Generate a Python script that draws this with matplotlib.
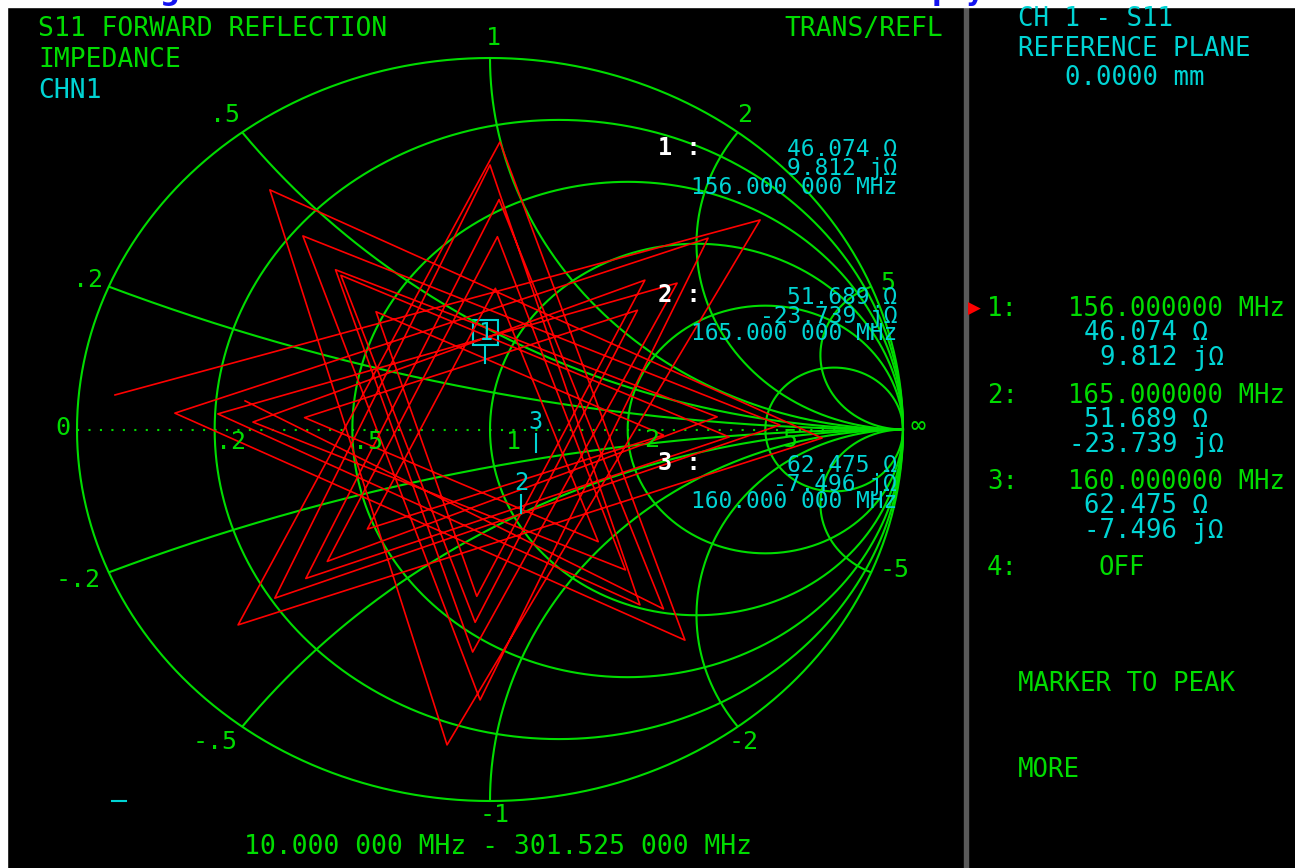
import numpy as np
import matplotlib
matplotlib.use("Agg")
import matplotlib.pyplot as plt
from matplotlib.lines import Line2D
from matplotlib.patches import Rectangle

W, H = 1295, 868
GREEN = "#00dc00"
CYAN = "#00d4d4"
RED = "#ff0000"
MONO = "DejaVu Sans Mono"

# smith chart grid
r_values = [0, 0.2, 0.5, 1, 2, 5]
x_values = [0.2, 0.5, 1, 2, 5]

# red trace, reflection coefficient (re, im)
trace_re = [-0.908, 0.654, -0.104, -0.533, 0.804, -0.610, 0.024, 0.472,
            -0.763, 0.528, -0.024, -0.453, 0.702, -0.521, 0.000, 0.363,
            -0.659, 0.453, -0.042, -0.374, 0.550, -0.394, 0.018, 0.328,
            -0.574, 0.375, -0.032, -0.276, 0.420, -0.297, 0.013, 0.262,
            -0.449, 0.357, -0.036, -0.361, 0.579, -0.446, 0.022, 0.420,
            -0.593]
trace_im = [0.093, 0.564, -0.849, 0.645, -0.023, -0.526, 0.774, -0.567,
            0.044, 0.515, -0.728, 0.521, 0.012, -0.454, 0.712, -0.472,
            0.042, 0.394, -0.599, 0.430, 0.034, -0.355, 0.519, -0.378,
            0.020, 0.402, -0.449, 0.317, -0.015, -0.268, 0.380, -0.302,
            0.032, 0.321, -0.519, 0.415, -0.020, -0.401, 0.619, -0.483,
            0.077]

# markers
marker_ids = ["1", "2", "3"]
marker_re = [-0.012, 0.075, 0.111]
marker_im = [0.179, -0.225, -0.061]
marker_freq = ["156.000 000 MHz", "165.000 000 MHz", "160.000 000 MHz"]
marker_res = ["46.074 Ω", "51.689 Ω", "62.475 Ω"]
marker_react = ["9.812 jΩ", "-23.739 jΩ", "-7.496 jΩ"]
panel_freq = ["156.000000 MHz", "165.000000 MHz", "160.000000 MHz"]

# screen geometry of the chart (pixels)
CX, CY, RX, RY = 490, 429.5, 413, 371.5

fig = plt.figure(figsize=(W / 100, H / 100), dpi=100, facecolor="black")
ax = fig.add_axes([0, 0, 1, 1])
ax.set_facecolor("black")
ax.set_xlim(-CX / RX, (W - CX) / RX)
ax.set_ylim((CY - H) / RY, CY / RY)
ax.set_xticks([])
ax.set_yticks([])
for s in ax.spines.values():
    s.set_visible(False)

grid_kw = dict(color=GREEN, lw=1.5, solid_capstyle="butt")
t = np.linspace(0, 2 * np.pi, 721)
for r in r_values:
    c, rad = r / (1 + r), 1 / (1 + r)
    ax.plot(c + rad * np.cos(t), rad * np.sin(t), **grid_kw)

rr = np.concatenate([[0], np.logspace(-3, 4, 800)])
for x in x_values:
    for sgn in (1, -1):
        z = rr + 1j * sgn * x
        g = (z - 1) / (z + 1)
        ax.plot(g.real, g.imag, **grid_kw)

ax.plot([-1, 1], [0, 0], color=GREEN, lw=1.5, ls=(0, (1, 4.5)))

# trace
ax.plot(trace_re, trace_im, color=RED, lw=1.2)

# markers on the chart
for mid, mr, mi in zip(marker_ids, marker_re, marker_im):
    ax.plot([mr, mr], [mi, mi + 18 / RY], color=CYAN, lw=1.5)
    ax.text(mr, mi + 30 / RY, mid, color=CYAN, fontsize=17, family=MONO,
            ha="center", va="center")
ax.add_patch(Rectangle((marker_re[0] - 12.5 / RX, marker_im[0] + 18 / RY),
                       25 / RX, 25 / RY, fill=False, ec=CYAN, lw=1.5))


def put(x, y, s, color=GREEN, size=19, ha="left", **kw):
    fig.text(x / W, 1 - y / H, s, color=color, fontsize=size, family=MONO,
             ha=ha, va="center", **kw)


put(38, 29, "S11 FORWARD REFLECTION")
put(38, 60, "IMPEDANCE")
put(38, 91, "CHN1", CYAN)
put(943, 29, "TRANS/REFL", ha="right")

# grid labels
put(493, 38, "1", size=18, ha="center")
put(225, 115, ".5", size=18, ha="center")
put(745, 115, "2", size=18, ha="center")
put(88, 280, ".2", size=18, ha="center")
put(888, 283, "5", size=18, ha="center")
put(63, 428, "0", size=18, ha="center")
put(231, 442, ".2", size=18, ha="center")
put(368, 442, ".5", size=18, ha="center")
put(513, 442, "1", size=18, ha="center")
put(652, 440, "2", size=18, ha="center")
put(790, 440, "5", size=18, ha="center")
put(918, 426, "∞", size=18, ha="center")
put(78, 580, "-.2", size=18, ha="center")
put(215, 742, "-.5", size=18, ha="center")
put(495, 815, "-1", size=18, ha="center")
put(744, 742, "-2", size=18, ha="center")
put(895, 570, "-5", size=18, ha="center")

put(498, 847, "10.000 000 MHz - 301.525 000 MHz", ha="center")

# marker readouts on chart
for k, yy in enumerate([150, 297, 465]):
    put(658, yy - 2, marker_ids[k] + " :", "white", size=17, weight="bold")
    put(897, yy, marker_res[k], CYAN, size=16.5, ha="right")
    put(897, yy + 19, marker_react[k], CYAN, size=16.5, ha="right")
    put(897, yy + 37, marker_freq[k], CYAN, size=16.5, ha="right")

# right panel
put(1018, 19, "CH 1 - S11", CYAN, size=18.5)
put(1018, 49, "REFERENCE PLANE", CYAN, size=18.5)
put(1065, 78, "0.0000 mm", CYAN, size=18.5)
for k, yy in enumerate([309, 396, 482]):
    put(987, yy, marker_ids[k] + ":", size=18.5)
    put(1285, yy, panel_freq[k], size=18.5, ha="right")
    put(1208, yy + 24, marker_res[k], CYAN, size=18.5, ha="right")
    put(1224, yy + 49, marker_react[k], CYAN, size=18.5, ha="right")
put(987, 568, "4:", size=18.5)
put(1098, 568, "OFF", size=18.5)
put(1018, 684, "MARKER TO PEAK", size=18.5)
put(1018, 770, "MORE", size=18.5)
fig.text(968 / W, 1 - 309 / H, "▶", color=RED, fontsize=12, ha="left", va="center")

# frame pieces of the screenshot
fig.add_artist(Rectangle((964 / W, 0), 4 / W, 1, color="#5a5a5a", transform=fig.transFigure))
fig.add_artist(Rectangle((0, 0), 7 / W, 1, color="white", transform=fig.transFigure))
fig.add_artist(Rectangle((0, 1 - 7 / H), 1, 7 / H, color="white", transform=fig.transFigure))
fig.add_artist(Line2D([112 / W, 126 / W], [1 - 801 / H] * 2, color=CYAN, lw=1.5))
for gx, ch in [(160, "g"), (932, "p"), (966, "y")]:
    fig.text(gx / W, 1.0, ch, color="#1414f0", fontsize=20, weight="bold",
             ha="left", va="baseline")

fig.savefig("out.png", dpi=100, facecolor="black")
